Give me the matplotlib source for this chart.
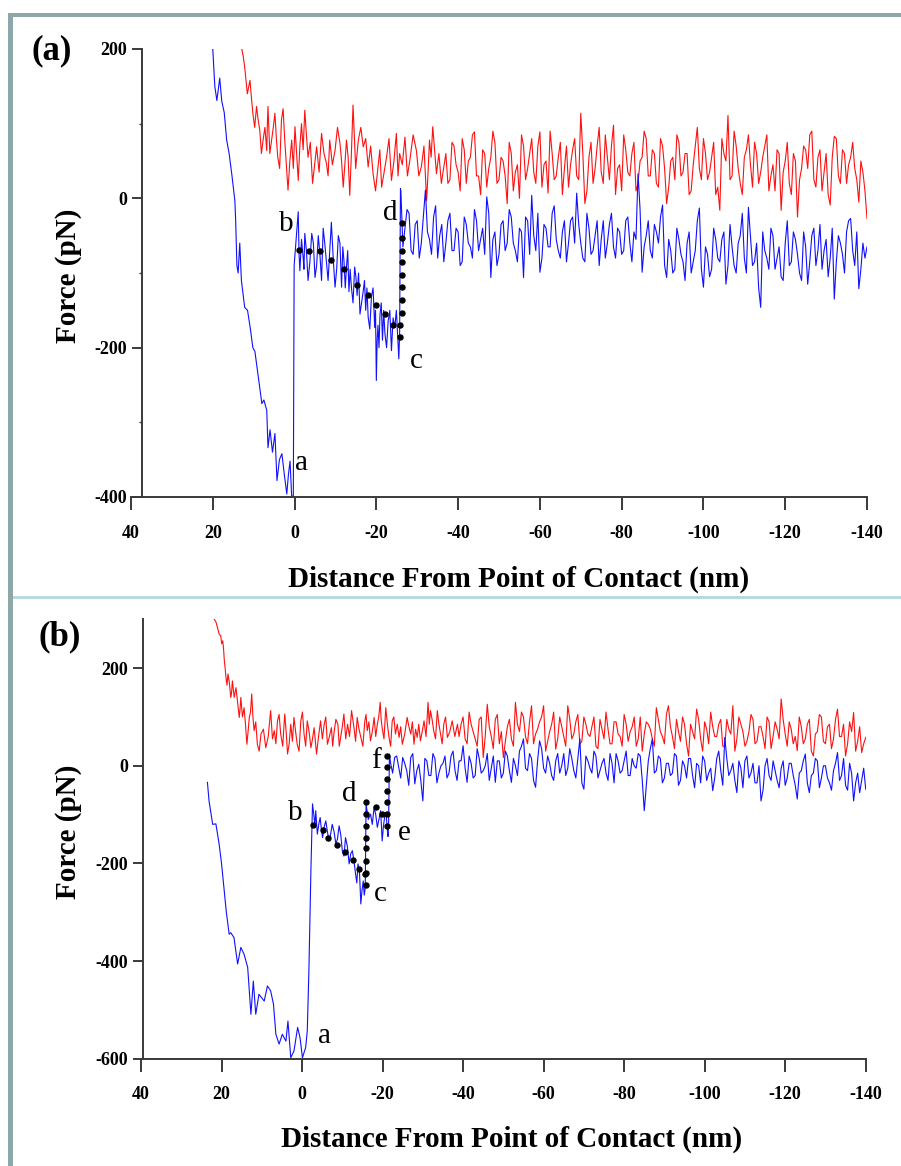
import numpy as np
import matplotlib
matplotlib.use("Agg")
import matplotlib.pyplot as plt
from matplotlib.patches import Rectangle

plt.rcParams['font.family'] = ['Liberation Serif', 'DejaVu Serif']
plt.rcParams['axes.unicode_minus'] = False

# ---------------- panel (a) ----------------
# blue approach down to a
a_blue_app_x = [20.0, 19.5, 19.0, 18.3, 17.8, 17.2, 16.6, 16.0, 15.3, 14.6,
                14.4, 14.1, 13.8, 13.4, 13.0, 12.2, 11.5, 10.8, 10.2, 9.7,
                9.2, 8.6, 8.0, 7.5, 6.8, 6.5, 6.0, 5.4, 4.8, 4.3,
                3.7, 3.1, 2.5, 1.9, 1.5, 1.1, 0.7, 0.3, 0.1]
a_blue_app_f = [200, 150, 131, 161, 130, 115, 78, 60, 30, -3,
                -30, -90, -100, -60, -110, -146, -150, -175, -200, -205,
                -225, -250, -275, -270, -284, -334, -310, -340, -315, -378,
                -350, -342, -370, -396, -370, -352, -400, -398, -90]
# blue plateau b -> c and rupture up to d
a_blue_plat_x = [-0.9, -1.3, -2.1, -2.5, -3.3, -4.2, -5.0, -5.8, -6.6, -7.4,
                 -8.2, -9.0, -9.9, -10.7, -11.5, -12.1, -12.7, -13.3, -13.9, -14.7,
                 -15.3, -16.0, -16.8, -17.4, -18.0, -18.8, -19.6, -20.0, -20.4, -20.9,
                 -21.5, -22.1, -22.9, -23.7, -24.5, -25.3, -25.7, -25.9]
a_blue_plat_f = [-18, -97, -79, -47, -110, -47, -106, -50, -110, -61,
                 -110, -32, -119, -50, -119, -85, -92, -125, -119, -92,
                 -130, -155, -124, -150, -159, -132, -173, -244, -170, -155,
                 -190, -181, -164, -204, -173, -195, -180, 13]
# samples between consecutive plateau points
a_blue_plat_mid_f = [-75, -55, -95, -70, -85, -60, -90, -75, -40, -85,
                     -70, -80, -95, -60, -65, -120, -70, -95, -140, -105,
                     -100, -140, -110, -120, -175, -120, -150, -190, -200, -140,
                     -150, -200, -150, -160, -150, -215, -80]
# blue after d: whole-nm samples x = -26 ... -140, half-nm samples x = -26.5 ... -139.5
a_blue_tail_f = [10, -40, -20, -75, -30, -60, 11, -55, -25, -80,
                 -35, -60, -20, -70, -45, -85, -35, -65, -15, -70,
                 -40, 2, -106, -45, -75, -30, -60, -25, -70, -40,
                 -106, -30, 4, -70, -99, -35, -65, -20, -55, -80,
                 -30, -60, -25, 7, -60, -85, -40, -70, -30, -55,
                 -80, -35, -65, -40, -75, -30, -60, -45, 33, -99,
                 -50, -70, -35, -60, -9, -106, -70, -95, -55, -85,
                 -60, -100, -70, -13, -119, -75, -95, -55, -85, -45,
                 -90, -65, -100, -50, -80, -12, -90, -60, -146, -70,
                 -95, -50, -80, -105, -60, -90, -45, -75, -110, -65,
                 -85, -40, -70, -95, -55, -80, -135, -50, -75, -45,
                 -27, -90, -121, -60, -65]
a_blue_half_f = [-65, -15, -70, -35, -80, -25, -45, -75, -10, -50,
                 -85, -30, -70, -40, -90, -25, -60, -80, -30, -55,
                 -75, -20, -55, -90, -35, -70, -15, -60, -85, -45,
                 -25, -75, -50, -20, -80, -40, -65, -10, -70, -45,
                 -85, -30, -60, -35, -80, -20, -75, -50, -90, -30,
                 -60, -20, -80, -45, -70, -25, -85, -55, -15, -65,
                 -30, -80, -45, -25, -90, -55, -100, -40, -75, -110,
                 -45, -85, -30, -95, -65, -105, -40, -80, -55, -115,
                 -35, -90, -60, -20, -100, -50, -85, -120, -45, -80,
                 -40, -95, -65, -110, -30, -85, -55, -100, -45, -115,
                 -50, -90, -35, -70, -105, -40, -85, -60, -100, -30,
                 -70, -45, -95, -80]
a_red_head_x = [12.9, 12.2, 10.9, 10.2, 9.3, 8.5, 7.7, 6.8, 6.5, 5.6,
                4.8, 4.1, 3.2, 2.4, 1.6, 0.7, -0.1, -0.9, -1.7, -2.5,
                -3.3, -4.4, -5.4, -6.6, -7.8, -8.6, -9.9, -11.1, -11.9, -12.7,
                -13.5, -14.3, -15.6, -16.8, -18.0, -19.2, -20.4, -21.3, -22.5, -23.7,
                -24.9, -25.7, -27.0, -28.2, -29.8, -31.0, -32.3, -33.0, -33.8, -34.7,
                -35.9]
a_red_head_f = [200, 176, 158, 114, 123, 91, 78, 64, 123, 78,
                114, 55, 105, 78, 11, 78, 96, 24, 100, 118,
                55, 20, 69, 87, 47, 78, 64, 74, 15, 78,
                4, 125, 78, 69, 42, 33, 42, 15, 55, 24,
                87, 60, 82, 51, 64, 42, -3, 78, 96, 33,
                20]
a_red_head_mid_f = [190, 140, 135, 95, 105, 60, 95, 100, 60, 95,
                    80, 40, 120, 45, 50, 40, 60, 70, 65, 85,
                    75, 45, 35, 60, 30, 45, 95, 50, 45, 55,
                    60, 40, 95, 80, 70, 10, 65, 35, 80, 50,
                    30, 45, 30, 85, 30, 70, 35, 55, 65, 60]
# red: whole-nm samples x = -37 ... -140, half-nm samples x = -37.5 ... -139.5
a_red_tail_f = [60, 25, 70, 35, 80, 20, 55, 89, 30, 65,
                15, 55, 75, 25, 50, -7, 60, 35, 0, 70,
                40, 80, 20, 89, 45, 7, 60, 30, 75, 40,
                15, 65, 30, 114, -7, 55, 20, 70, 35, 85,
                25, 98, 40, 10, 65, 30, 75, 20, 55, 80,
                30, 60, 15, 70, -7, 50, 25, 75, 35, 60,
                10, 70, 40, 80, 25, 55, 5, -16, 60, 111,
                30, 70, 20, 55, 85, 15, 60, 35, 70, 10,
                45, 65, -16, 50, 20, 60, -25, 40, 65, 85,
                25, 55, 10, 60, -9, 83, 30, 65, 20, 55,
                40, -5, 35, -27]
a_red_half_f = [20, 75, 45, 10, 65, 50, 85, 30, 5, 60,
                40, 90, 20, 55, 30, 75, 10, 45, 85, 25,
                60, 35, 70, 15, 50, 90, 25, 55, 5, 70,
                45, 80, 25, 60, 10, 75, 40, 95, 20, 55,
                70, 5, 45, 85, 35, 60, 10, 50, 90, 30,
                65, 20, 80, 40, 15, 55, 85, 30, 60, 5,
                45, 95, 25, 60, 35, 75, 15, 80, 50, 25,
                90, 40, 5, 65, 45, 75, 20, 55, 85, 30,
                10, 60, 35, 75, 5, 50, 25, 70, 40, 90,
                15, 65, 35, 5, 55, 80, 20, 60, 45, 75,
                25, 50, 10]
a_dots_x = [-1.1, -3.6, -6.2, -9.0, -12.1, -15.3, -17.9, -20.0, -22.0, -24.0,
            -25.7, -25.7, -26.3, -26.3, -26.3, -26.3, -26.3, -26.3, -26.3, -26.3]
a_dots_f = [-69, -70, -71, -82, -95, -116, -129, -143, -155, -170,
            -170, -186, -153, -136, -119, -103, -85, -70, -53, -33]
a_letters = ['a', 'b', 'c', 'd']
a_letter_x = [-1.7, 2.0, -29.8, -23.3]
a_letter_f = [-354, -34, -218, -20]

# ---------------- panel (b) ----------------
b_blue_app_x = [23.5, 23.1, 22.2, 21.4, 20.6, 20.0, 19.4, 18.8, 18.1, 17.7,
                16.9, 16.0, 15.2, 14.4, 13.5, 12.7, 12.1, 11.5, 10.7, 9.4,
                8.6, 7.8, 7.1, 6.5, 5.7, 4.9, 4.0, 3.5, 2.8, 2.0,
                1.1, 0.5, -0.1, -0.9, -1.3, -1.7, -2.2, -2.6]
b_blue_app_f = [-34, -72, -120, -119, -160, -200, -249, -300, -345, -342,
                -352, -406, -372, -386, -413, -509, -441, -509, -468, -482,
                -451, -461, -488, -550, -570, -550, -564, -523, -598, -584,
                -536, -557, -598, -577, -543, -420, -215, -78]
b_blue_plat_x = [-3.0, -3.4, -3.8, -4.5, -5.1, -5.9, -6.7, -7.5, -8.4, -9.2,
                 -10.0, -10.8, -11.7, -12.5, -13.3, -13.9, -14.6, -15.2, -15.7, -15.9,
                 -17.0, -17.9, -18.7, -19.5, -19.9, -20.5, -21.2, -21.5, -21.7]
b_blue_plat_f = [-106, -92, -140, -106, -147, -113, -154, -120, -160, -123,
                 -174, -147, -201, -174, -222, -201, -283, -236, -250, -78,
                 -99, -85, -126, -92, -154, -106, -133, -120, 24]
b_blue_plat_mid_f = [-125, -115, -120, -130, -125, -135, -140, -135, -150, -140,
                     -185, -165, -180, -195, -240, -215, -255, -265, -160, -110,
                     -120, -100, -110, -120, -125, -95, -145, -50]
# blue after f: whole-nm samples x = -22 ... -140, half-nm samples x = -22.5 ... -139.5
b_blue_tail_f = [5, 17, -3, 17, -10, 17, -37, 3, -72, 10,
                 -20, 15, -15, 5, -25, 20, -10, 10, 41, -34,
                 5, -20, 15, -10, 25, -5, -34, 10, -15, 20,
                 -34, 0, 30, 55, -10, 15, -44, 51, -5, 20,
                 -20, 10, -15, 25, -5, 15, -25, 55, -48, 10,
                 -15, 20, -10, 15, -30, 5, 25, -15, 10, -20,
                 15, -5, 20, -92, 10, 55, -10, 15, -25, 5,
                 -15, 20, -30, 0, 15, -20, 5, -35, 10, -15,
                 -51, 15, -10, 58, -20, 5, -55, -5, 10, -25,
                 5, -35, -72, 0, -20, 10, -30, -5, -40, 5,
                 -20, -68, -10, 24, -55, -15, 10, -25, 0, -35,
                 -10, 27, -20, -40, 5, -72, -15, -30, -48]
b_blue_half_f = [-15, 20, -25, 5, -40, 25, -10, -30, 15, -20,
                 25, -35, 0, 20, -15, 30, -30, 10, -5, 20,
                 -25, 35, -15, 0, -30, 20, 10, -25, 30, -10,
                 15, -20, 40, -5, 25, -30, 10, 35, -15, 5,
                 -30, 25, 0, -20, 35, -10, 15, -35, 20, -5,
                 30, -25, 5, -15, 25, -35, 10, -10, 30, -20,
                 0, 25, -30, -40, 35, -15, 20, -35, 5, -20,
                 25, -40, 10, -25, 15, -45, 0, 20, -30, -5,
                 -25, 30, -40, 15, -10, -30, 10, -45, 20, -15,
                 -35, 0, -50, 15, -30, -10, -45, 10, -25, 5,
                 -40, -15, 10, -35, -20, 15, -45, 0, -25, -50,
                 5, -30, 15, -50, -15, -35, -55, -5]
b_red_head_x = [21.8, 21.0, 20.2, 19.7, 19.3, 18.9, 18.4, 17.7, 17.3, 16.4,
                15.6, 15.2, 14.4, 13.7, 13.1, 12.5, 11.9, 11.1, 10.2, 9.0,
                7.8, 6.9, 6.1, 5.3, 4.3, 3.6, 2.8, 2.0, 1.2, 0.3,
                -0.5, -1.3, -2.2, -3.0, -3.6, -4.6, -5.5, -6.3, -7.3, -7.9,
                -8.9, -9.6, -10.4, -11.3, -12.3, -12.9, -13.7, -14.6, -15.6, -16.2,
                -17.0, -17.9, -18.7, -19.4, -19.9, -20.8, -21.6, -22.4, -23.2, -24.1,
                -24.9, -26.1, -27.0, -27.8, -28.6, -29.4, -30.3, -31.3, -31.9, -32.7,
                -33.6, -34.4, -35.2, -36.1, -37.3, -38.6]
b_red_head_f = [300, 283, 266, 256, 215, 181, 188, 140, 174, 160,
                99, 140, 119, 44, 99, 147, 72, 44, 65, 37,
                113, 72, 92, 65, 106, 24, 85, 99, 44, 92,
                65, 92, 37, 78, 24, 92, 85, 44, 78, 65,
                85, 58, 106, 85, 113, 78, 99, 58, 92, 72,
                51, 99, 85, 130, 78, 119, 58, 92, 65, 58,
                44, 99, 65, 44, 58, 51, 92, 130, 113, 72,
                113, 65, 85, 58, 92, 85]
b_red_head_mid_f = [295, 270, 250, 240, 200, 165, 170, 150, 140, 130,
                    115, 100, 85, 70, 110, 100, 90, 30, 75, 60,
                    55, 45, 105, 40, 70, 45, 50, 70, 30, 110,
                    40, 70, 55, 50, 60, 55, 100, 60, 40, 95,
                    40, 80, 55, 60, 95, 50, 75, 40, 105, 90,
                    70, 60, 100, 95, 55, 85, 40, 100, 85, 80,
                    65, 80, 90, 75, 85, 70, 60, 85, 95, 55,
                    85, 45, 100, 70, 60]
# red: whole-nm samples x = -39 ... -140, half-nm samples x = -39.5 ... -139.5
b_red_tail_f = [60, 100, 45, 85, 55, 95, 17, 126, 60, 95,
                45, 17, 80, 55, 130, 70, 100, 45, 123, 65,
                90, 123, 50, 85, 34, 100, 60, 123, 55, 90,
                45, 100, 65, 80, 40, 95, 55, 75, 45, 90,
                60, 105, 50, 80, 40, 100, 65, 85, 55, 119,
                70, 45, 123, 60, 95, 50, 85, 20, 70, 116,
                55, 90, 45, 80, 60, 95, 40, 75, 123, 55,
                85, 40, 70, 95, 50, 80, 35, 90, 60, 75,
                137, 65, 90, 45, 31, 80, 55, 95, 20, 70,
                100, 45, 85, 55, 116, 60, 20, 90, 109, 50,
                27, 58]
b_red_half_f = [85, 55, 110, 70, 40, 100, 60, 80, 35, 105,
                70, 50, 95, 40, 85, 110, 60, 90, 45, 75,
                100, 30, 70, 110, 55, 80, 40, 95, 65, 105,
                50, 85, 60, 100, 35, 75, 110, 45, 90, 65,
                40, 85, 70, 100, 55, 30, 90, 75, 40, 95,
                60, 105, 80, 35, 70, 100, 45, 85, 55, 95,
                30, 75, 110, 60, 85, 40, 95, 65, 30, 100,
                70, 50, 105, 45, 80, 60, 100, 35, 90, 55,
                95, 40, 75, 60, 100, 45, 85, 30, 65, 105,
                50, 80, 35, 95, 60, 85, 45, 70, 30, 80,
                45]
b_dots_x = [-2.7, -5.1, -6.5, -8.6, -10.7, -12.7, -14.2, -15.7,
            -15.9, -15.9, -15.9, -15.9, -15.9, -15.9, -15.9, -15.9,
            -18.3, -19.9,
            -21.2, -21.2, -21.2, -21.2, -21.2, -21.2, -21.2]
b_dots_f = [-121, -132, -147, -162, -176, -192, -211, -222,
            -244, -219, -195, -169, -147, -123, -98, -74,
            -85, -98,
            -123, -98, -75, -51, -27, -3, 20]
b_letters = ['a', 'b', 'c', 'd', 'e', 'f']
b_letter_x = [-5.5, 1.6, -19.5, -11.7, -25.3, -18.3]
b_letter_f = [-553, -96, -263, -58, -137, 10]

x_ticks = [40, 20, 0, -20, -40, -60, -80, -100, -120, -140]


def densify(x, f, mid_f):
    # put the extra samples halfway between the read points
    x = np.asarray(x, float)
    out_x = np.empty(2 * len(x) - 1)
    out_f = np.empty(2 * len(x) - 1)
    out_x[0::2] = x
    out_x[1::2] = (x[:-1] + x[1:]) / 2
    out_f[0::2] = f
    out_f[1::2] = mid_f
    return out_x, out_f


def trace(head_x, head_f, start, whole_f, half_f):
    # whole-nm and half-nm samples alternate along the tail
    tail = np.empty(len(whole_f) + len(half_f))
    tail[0::2] = whole_f
    tail[1::2] = half_f
    tail_x = start - 0.5 * np.arange(len(tail))
    return np.concatenate([head_x, tail_x]), np.concatenate([head_f, tail])


W, H = 901, 1166
fig = plt.figure(figsize=(W / 100, H / 100), dpi=100)

# frame around the two panels
frame = '#8ea8aa'
fig.add_artist(Rectangle((8 / W, 0), 5 / W, 1 - 13 / H, transform=fig.transFigure,
                         color=frame, lw=0))
fig.add_artist(Rectangle((8 / W, 1 - 17 / H), 1, 4 / H, transform=fig.transFigure,
                         color=frame, lw=0))
fig.add_artist(Rectangle((13 / W, 1 - 599 / H), 1, 3 / H, transform=fig.transFigure,
                         color='#b6dadd', lw=0))


def draw_panel(rect, ylim, yticks, spine_x, blue, red, dots, letters, minor):
    ax = fig.add_axes(rect)
    ax.plot(red[0], red[1], color='#ff1010', lw=0.8)
    ax.plot(blue[0], blue[1], color='#1010ff', lw=0.8)
    ax.plot(dots[0], dots[1], ls='none', marker='o', ms=3.6, color='black')
    for t, x, y in zip(*letters):
        ax.text(x, y, t, fontsize=21, ha='center', va='center')
    ax.set_xlim(40, -140)
    ax.set_ylim(*ylim)
    ax.set_xticks(x_ticks)
    ax.set_xticklabels([str(v) for v in x_ticks])
    ax.set_yticks(yticks)
    ax.set_yticklabels([str(v) for v in yticks])
    if minor:
        ax.set_yticks(minor, minor=True)
    for s in ['top', 'right']:
        ax.spines[s].set_visible(False)
    ax.spines['left'].set_position(('data', spine_x))
    for s in ['left', 'bottom']:
        ax.spines[s].set_color('#3a3a3a')
        ax.spines[s].set_linewidth(1.4)
    ax.tick_params(axis='x', direction='out', length=9, width=1.4, color='#3a3a3a',
                   pad=11, labelsize=13)
    ax.tick_params(axis='y', direction='out', length=7, width=1.4, color='#3a3a3a',
                   pad=3.5, labelsize=13)
    ax.tick_params(axis='y', which='minor', direction='out', length=2, width=1.0,
                   color='#3a3a3a')
    for lab in ax.get_xticklabels() + ax.get_yticklabels():
        lab.set_fontweight('bold')
    ax.patch.set_alpha(0)
    return ax


a_plat = densify(a_blue_plat_x, a_blue_plat_f, a_blue_plat_mid_f)
a_blue = trace(np.concatenate([a_blue_app_x, a_plat[0]]),
               np.concatenate([a_blue_app_f, a_plat[1]]),
               -26, a_blue_tail_f, a_blue_half_f)
a_red = trace(*densify(a_red_head_x, a_red_head_f, a_red_head_mid_f),
              -37, a_red_tail_f, a_red_half_f)
b_plat = densify(b_blue_plat_x, b_blue_plat_f, b_blue_plat_mid_f)
b_blue = trace(np.concatenate([b_blue_app_x, b_plat[0]]),
               np.concatenate([b_blue_app_f, b_plat[1]]),
               -22, b_blue_tail_f, b_blue_half_f)
b_red = trace(*densify(b_red_head_x, b_red_head_f, b_red_head_mid_f),
              -39, b_red_tail_f, b_red_half_f)

draw_panel([131 / W, 1 - 497 / H, 736 / W, 448 / H], (-400, 200), [200, 0, -200, -400],
           37.3, a_blue, a_red, (a_dots_x, a_dots_f),
           (a_letters, a_letter_x, a_letter_f), [100, -100, -300])
draw_panel([141 / W, 1 - 1058.7 / H, 724.7 / W, 439.4 / H], (-600, 300),
           [200, 0, -200, -400, -600], 39.6, b_blue, b_red,
           (b_dots_x, b_dots_f), (b_letters, b_letter_x, b_letter_f), None)

lab_kw = dict(fontsize=21, fontweight='bold', ha='center', va='center')
fig.text(52 / W, 1 - 51 / H, '(a)', fontsize=25, fontweight='bold', ha='center', va='center')
fig.text(60 / W, 1 - 637 / H, '(b)', fontsize=25, fontweight='bold', ha='center', va='center')
fig.text(68 / W, 1 - 276 / H, 'Force (pN)', rotation=90, **lab_kw)
fig.text(68 / W, 1 - 832 / H, 'Force (pN)', rotation=90, **lab_kw)
fig.text(519 / W, 1 - 579 / H, 'Distance From Point of Contact (nm)', **lab_kw)
fig.text(512 / W, 1 - 1139 / H, 'Distance From Point of Contact (nm)', **lab_kw)

fig.savefig('out.png', dpi=100)
